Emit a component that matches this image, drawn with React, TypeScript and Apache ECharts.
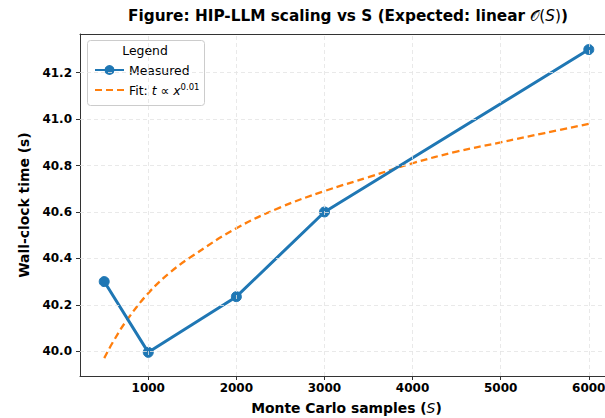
import React, { useEffect, useRef } from "react";
import * as echarts from "echarts";

// Measured wall-clock time per Monte Carlo sample count
const samples = [500, 1000, 2000, 3000, 6000];
const measuredTimes = [40.3, 39.995, 40.235, 40.6, 41.3];

// Power-law fit t ∝ x^0.01, sampled along the S range
const fitSamples = [500, 600, 750, 1000, 1250, 1500, 2000, 2500, 3000, 3500, 4000, 4500, 5000, 5500, 6000];
const fitTimes = [39.97, 40.04, 40.13, 40.25, 40.34, 40.41, 40.53, 40.62, 40.69, 40.75, 40.81, 40.86, 40.9, 40.94, 40.98];

const xTicks = [1000, 2000, 3000, 4000, 5000, 6000];
const yTicks = [40.0, 40.2, 40.4, 40.6, 40.8, 41.0, 41.2];

const X_MIN = 225;
const X_MAX = 6275;
const Y_MIN = 39.893;
const Y_MAX = 41.367;

const FONT = "DejaVu Sans";
const AXIS_COLOR = "#333333";
const GRID_COLOR = "#e3e3e3";
const BLUE = "#1f77b4";
const ORANGE = "#ff7f0e";

export default function App() {
  const ref = useRef<HTMLDivElement | null>(null);

  useEffect(() => {
    document.body.style.margin = "0";
    if (!ref.current) return;
    const chart = echarts.init(ref.current, null, { renderer: "svg" });

    const gridLine = {
      color: GRID_COLOR,
      width: 0.8,
      type: [4, 3] as number[],
    };

    const titleSize = 15.3;
    const labelSize = 13.9;
    const tickSize = 12;
    const legendSize = 12.4;

    chart.setOption({
      animation: false,
      backgroundColor: "#ffffff",
      textStyle: { fontFamily: FONT },
      // the plot frame runs a little past the right edge of the canvas
      grid: {
        left: 80,
        top: 34,
        right: -8,
        bottom: 42,
        containLabel: false,
        outerBoundsMode: "none",
      },
      graphic: [
        {
          type: "text",
          x: 348,
          y: 16,
          z: 10,
          style: {
            text: "{b|Figure: HIP-LLM scaling vs S (Expected: linear }{m|𝒪}{n|(}{i|S}{n|)}{b|)}",
            font: `bold ${titleSize}px '${FONT}'`,
            textAlign: "center",
            textVerticalAlign: "middle",
            fill: "#000",
            rich: {
              b: { font: `bold ${titleSize}px '${FONT}'`, fill: "#000" },
              m: { font: `${titleSize}px '${FONT}'`, fill: "#000" },
              n: { font: `${titleSize}px '${FONT}'`, fill: "#000" },
              i: { font: `italic ${titleSize}px '${FONT}'`, fill: "#000" },
            },
          },
        },
        {
          type: "rect",
          z: 3,
          shape: { x: 87.5, y: 40.5, width: 117, height: 65, r: 3 },
          style: { fill: "rgba(255,255,255,0.85)", stroke: "#cccccc", lineWidth: 1 },
        },
        {
          type: "text",
          z: 4,
          x: 145,
          y: 50,
          style: {
            text: "Legend",
            font: `${legendSize}px '${FONT}'`,
            textAlign: "center",
            textVerticalAlign: "middle",
            fill: "#000",
          },
        },
      ],
      legend: {
        orient: "vertical",
        left: 89,
        top: 59,
        z: 5,
        itemWidth: 29,
        itemHeight: 10,
        itemGap: 6,
        data: [
          { name: "Measured" },
          { name: "Fit", itemStyle: { opacity: 0 } },
        ],
        formatter: (name: string) =>
          name === "Fit" ? "Fit: {i|t} ∝ {i|x}{s|0.01}" : name,
        textStyle: {
          fontFamily: FONT,
          fontSize: legendSize,
          color: "#000",
          rich: {
            i: { fontFamily: FONT, fontStyle: "italic", fontSize: legendSize, color: "#000" },
            s: { fontFamily: FONT, fontSize: 8.5, color: "#000", padding: [0, 0, 7, 0] },
          },
        },
      },
      xAxis: [
        {
          type: "value",
          min: X_MIN,
          max: X_MAX,
          position: "bottom",
          name: "Monte Carlo samples ({i|S})",
          nameLocation: "middle",
          nameGap: 25,
          nameTextStyle: {
            fontFamily: FONT,
            fontWeight: "bold",
            fontSize: labelSize,
            color: "#000",
            rich: {
              i: { fontFamily: FONT, fontStyle: "italic", fontWeight: "normal", fontSize: labelSize, color: "#000" },
            },
          },
          axisLine: { show: true, lineStyle: { color: AXIS_COLOR, width: 1 } },
          axisTick: {
            show: true,
            customValues: xTicks,
            length: 4,
            lineStyle: { color: AXIS_COLOR },
          },
          axisLabel: {
            customValues: xTicks,
            formatter: (v: number) => String(v),
            fontFamily: FONT,
            fontWeight: "bold",
            fontSize: tickSize,
            color: "#000",
            margin: 6,
          },
          splitLine: { show: false },
        },
        {
          type: "value",
          min: X_MIN,
          max: X_MAX,
          position: "top",
          axisLine: { show: true, lineStyle: { color: AXIS_COLOR, width: 1 } },
          axisTick: { show: false },
          axisLabel: { show: false },
          splitLine: { show: false },
        },
      ],
      yAxis: {
        type: "value",
        min: Y_MIN,
        max: Y_MAX,
        name: "Wall-clock time (s)",
        nameLocation: "middle",
        nameGap: 47,
        nameTextStyle: { fontFamily: FONT, fontWeight: "bold", fontSize: labelSize, color: "#000" },
        axisLine: { show: true, lineStyle: { color: AXIS_COLOR, width: 1 } },
        axisTick: {
          show: true,
          customValues: yTicks,
          length: 4,
          lineStyle: { color: AXIS_COLOR },
        },
        axisLabel: {
          customValues: yTicks,
          formatter: (v: number) => v.toFixed(1),
          fontFamily: FONT,
          fontWeight: "bold",
          fontSize: tickSize,
          color: "#000",
          margin: 8,
        },
        splitLine: { show: false },
      },
      series: [
        {
          // carries the dashed background grid at the tick positions
          name: "grid",
          type: "line",
          data: [],
          silent: true,
          z: 1,
          markLine: {
            silent: true,
            symbol: ["none", "none"],
            label: { show: false },
            lineStyle: gridLine,
            emphasis: { disabled: true },
            data: [
              ...xTicks.map((v) => ({ xAxis: v })),
              ...yTicks.map((v) => ({ yAxis: v })),
            ],
          },
        },
        {
          name: "Fit",
          type: "line",
          data: fitSamples.map((x, i) => [x, fitTimes[i]]),
          smooth: 0.4,
          symbol: "none",
          z: 2,
          lineStyle: { color: ORANGE, width: 2.3, type: [7, 4] },
          itemStyle: { color: ORANGE },
        },
        {
          name: "Measured",
          type: "line",
          data: samples.map((x, i) => [x, measuredTimes[i]]),
          symbol: "circle",
          symbolSize: 10,
          z: 3,
          lineStyle: { color: BLUE, width: 3 },
          itemStyle: { color: BLUE, borderColor: BLUE, borderWidth: 1, opacity: 1 },
          emphasis: { disabled: true },
        },
      ],
    });

    return () => chart.dispose();
  }, []);

  return <div ref={ref} style={{ width: 605, height: 418 }} />;
}
